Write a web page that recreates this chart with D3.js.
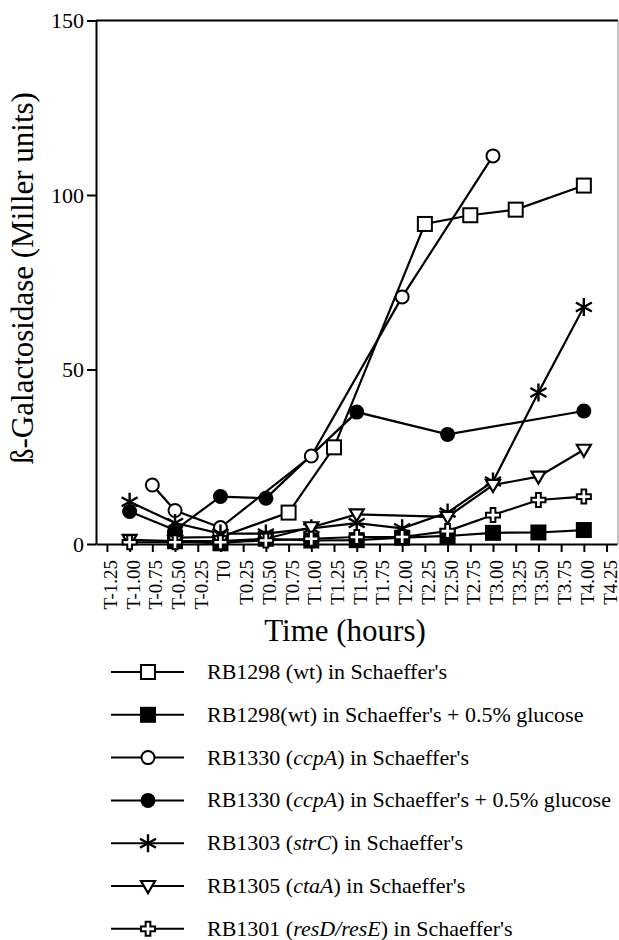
<!DOCTYPE html>
<html>
<head>
<meta charset="utf-8">
<script src="https://d3js.org/d3.v7.min.js"></script>
<style>
  body { margin: 0; background: #fff; }
  svg text { font-family: "Liberation Serif", "Times New Roman", serif; fill: #000; }
</style>
</head>
<body>
<div id="chart"></div>
<script>
// time points (hours) and values (Miller units)
var wtTimes = [-0.5, 0, 0.75, 1.25, 2.25, 2.75, 3.25, 4.0];
var wtValues = [1.8, 2.0, 9.0, 27.7, 91.7, 94.2, 95.8, 102.7];

var wtGlcTimes = [-0.5, 0, 0.5, 1.0, 1.5, 2.0, 2.5, 3.0, 3.5, 4.0];
var wtGlcValues = [0.8, 0.2, 1.5, 1.0, 1.1, 1.8, 2.3, 3.2, 3.3, 4.0];

var ccpATimes = [-0.75, -0.5, 0, 1.0, 2.0, 3.0];
var ccpAValues = [16.9, 9.6, 4.7, 25.2, 70.8, 111.2];

var ccpAGlcTimes = [-1.0, -0.5, 0, 0.5, 1.5, 2.5, 4.0];
var ccpAGlcValues = [9.3, 4.0, 13.6, 13.1, 37.8, 31.4, 38.1];

var strCTimes = [-1.0, -0.5, 0, 0.5, 1.0, 1.5, 2.0, 2.5, 3.0, 3.5, 4.0];
var strCValues = [12.1, 6.0, 3.0, 3.0, 4.5, 6.0, 4.5, 9.0, 17.9, 43.4, 67.9];

var ctaATimes = [-1.0, -0.5, 0, 0.5, 1.0, 1.5, 2.5, 3.0, 3.5, 4.0];
var ctaAValues = [1.2, 0.8, 0.8, 1.5, 4.8, 8.5, 7.8, 16.9, 19.3, 27.0];

var resDETimes = [-1.0, -0.5, 0, 0.5, 1.0, 1.5, 2.0, 2.5, 3.0, 3.5, 4.0];
var resDEValues = [0.5, 0.5, 0.5, 1.0, 1.5, 2.0, 2.0, 3.7, 8.3, 12.6, 13.6];

// legend labels, odd pieces are italic
var legendLabels = [
    ["RB1298 (wt) in Schaeffer's"],
    ["RB1298(wt) in Schaeffer's + 0.5% glucose"],
    ["RB1330 (", "ccpA", ") in Schaeffer's"],
    ["RB1330 (", "ccpA", ") in Schaeffer's + 0.5% glucose"],
    ["RB1303 (", "strC", ") in Schaeffer's"],
    ["RB1305 (", "ctaA", ") in Schaeffer's"],
    ["RB1301 (", "resD/resE", ") in Schaeffer's"]
];
var markerTypes = ["openSquare", "filledSquare", "openCircle", "filledCircle", "asterisk", "triangle", "cross"];

var xTickValues = [-1.25, -1.0, -0.75, -0.5, -0.25, 0, 0.25, 0.5, 0.75, 1.0, 1.25, 1.5, 1.75,
                   2.0, 2.25, 2.5, 2.75, 3.0, 3.25, 3.5, 3.75, 4.0, 4.25];
var xTickLabels = ["T-1.25", "T-1.00", "T-0.75", "T-0.50", "T-0.25", "T0", "T0.25", "T0.50", "T0.75",
                   "T1.00", "T1.25", "T1.50", "T1.75", "T2.00", "T2.25", "T2.50", "T2.75", "T3.00",
                   "T3.25", "T3.50", "T3.75", "T4.00", "T4.25"];
var yTickValues = [0, 50, 100, 150];

function init(){

    var w = 619;
    var h = 940;

    var x = d3.scaleLinear()
              .domain([-1.37, 4.365])
              .range([96, 617]);

    var y = d3.scaleLinear()
              .domain([0, 150])
              .range([544, 20.5]);

    var svg = d3.select("#chart")
                .append("svg")
                .attr("width", w)
                .attr("height", h);

    var seriesTimes = [wtTimes, wtGlcTimes, ccpATimes, ccpAGlcTimes, strCTimes, ctaATimes, resDETimes];
    var seriesValues = [wtValues, wtGlcValues, ccpAValues, ccpAGlcValues, strCValues, ctaAValues, resDEValues];

    var series = seriesTimes.map(function(times, i){
        return {
            type: markerTypes[i],
            points: times.map(function(t, j){ return { t: t, v: seriesValues[i][j] }; })
        };
    });

    // frame: top and right edges
    svg.append("line")
        .attr("x1", 96).attr("x2", 618)
        .attr("y1", y(150)).attr("y2", y(150))
        .attr("stroke", "#000").attr("stroke-width", 2);
    svg.append("line")
        .attr("x1", 618).attr("x2", 618)
        .attr("y1", y(150)).attr("y2", y(0))
        .attr("stroke", "#888").attr("stroke-width", 1);

    // x axis
    var xAxis = svg.append("g")
        .attr("transform", "translate(0," + y(0) + ")")
        .call(d3.axisBottom(x)
            .tickValues(xTickValues)
            .tickFormat(function(d, i){ return xTickLabels[i]; })
            .tickSize(8)
            .tickSizeOuter(0));
    xAxis.select(".domain").attr("stroke-width", 2);
    xAxis.selectAll(".tick line").attr("stroke-width", 2);
    xAxis.selectAll(".tick text")
        .attr("transform", "rotate(-90)")
        .attr("text-anchor", "end")
        .attr("x", -16)
        .attr("y", 0)
        .attr("dy", "0.5em")
        .style("font-size", "19px")
        .style("font-family", "'Liberation Serif', serif");

    // y axis
    var yAxis = svg.append("g")
        .attr("transform", "translate(96,0)")
        .call(d3.axisLeft(y)
            .tickValues(yTickValues)
            .tickSize(9)
            .tickSizeOuter(0));
    yAxis.select(".domain").attr("stroke-width", 2);
    yAxis.selectAll(".tick line").attr("stroke-width", 2);
    yAxis.selectAll(".tick text")
        .attr("x", -12)
        .style("font-size", "22px")
        .style("font-family", "'Liberation Serif', serif");

    // axis titles
    svg.append("text")
        .attr("transform", "translate(33," + 278 + ") rotate(-90)")
        .attr("text-anchor", "middle")
        .style("font-size", "31px")
        .text("ß-Galactosidase (Miller units)");

    svg.append("text")
        .attr("x", 345)
        .attr("y", 641)
        .attr("text-anchor", "middle")
        .style("font-size", "31px")
        .text("Time (hours)");

    var line = d3.line()
                .x(function(d){ return x(d.t); })
                .y(function(d){ return y(d.v); });

    svg.selectAll("path.series")
        .data(series)
        .enter()
        .append("path")
        .attr("class", "series")
        .attr("d", function(d){ return line(d.points); })
        .attr("fill", "none")
        .attr("stroke", "#000")
        .attr("stroke-width", 2.2);

    series.forEach(function(s){
        s.points.forEach(function(p){
            drawMarker(svg, s.type, x(p.t), y(p.v));
        });
    });

    // legend
    var legend = svg.append("g");
    legendLabels.forEach(function(parts, i){
        var cy = 672 + i * 42.8;
        legend.append("line")
            .attr("x1", 111).attr("x2", 184)
            .attr("y1", cy).attr("y2", cy)
            .attr("stroke", "#000").attr("stroke-width", 2);
        drawMarker(legend, markerTypes[i], 148, cy);
        var txt = legend.append("text")
            .attr("x", 207)
            .attr("y", cy + 7)
            .style("font-size", "22px");
        parts.forEach(function(p, j){
            txt.append("tspan")
                .style("font-style", j % 2 == 1 ? "italic" : "normal")
                .text(p);
        });
    });
}

function drawMarker(g, type, cx, cy){
    var m = g.append("g").attr("transform", "translate(" + cx + "," + cy + ")");
    if (type == "openSquare" || type == "filledSquare") {
        m.append("rect")
            .attr("x", -7).attr("y", -7)
            .attr("width", 14).attr("height", 14)
            .attr("fill", type == "openSquare" ? "#fff" : "#000")
            .attr("stroke", "#000").attr("stroke-width", 2);
    } else if (type == "openCircle") {
        m.append("circle").attr("r", 6.5)
            .attr("fill", "#fff").attr("stroke", "#000").attr("stroke-width", 2);
    } else if (type == "filledCircle") {
        m.append("circle").attr("r", 7.5).attr("fill", "#000");
    } else if (type == "triangle") {
        m.append("path")
            .attr("d", "M-7,-5L7,-5L0,7Z")
            .attr("fill", "#fff").attr("stroke", "#000").attr("stroke-width", 2.2);
    } else if (type == "asterisk") {
        m.append("path")
            .attr("d", "M0,-9L0,9M-8,-4.5L8,4.5M-8,4.5L8,-4.5")
            .attr("fill", "none").attr("stroke", "#000").attr("stroke-width", 2.4);
    } else if (type == "cross") {
        m.append("path")
            .attr("d", d3.symbol().type(d3.symbolCross).size(110)())
            .attr("fill", "#fff").attr("stroke", "#000").attr("stroke-width", 2);
    }
}

window.onload = init;
</script>
</body>
</html>
